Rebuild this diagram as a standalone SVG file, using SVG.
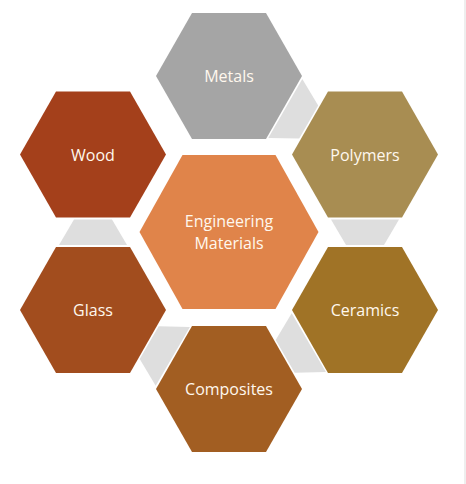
<svg xmlns="http://www.w3.org/2000/svg" width="466" height="484" viewBox="0 0 466 484">
  <style>
    .lbl { font-family: "Open Sans", "Noto Sans", "Liberation Sans", sans-serif; font-size: 16px; fill: #FFF8EE; text-anchor: middle; }
    .conn { fill: #DEDEDE; stroke: none; }
  </style>
  <rect x="0" y="0" width="466" height="484" fill="#FFFFFF"/>
  <rect x="464" y="0" width="2" height="484" fill="#EEEEEE"/>

  <g id="connectors">
    <polygon class="conn" points="268.3,137.9 302.3,79.1 318.2,105.5 299.2,138.5"/>
    <polygon class="conn" points="331,219.5 399,219.5 384,245 346,245"/>
    <polygon class="conn" points="291.7,313.3 325.9,372 294.7,372.8 275.7,339.9"/>
    <polygon class="conn" points="189.9,327 155.7,385.8 139.7,359.1 158.7,326.2"/>
    <polygon class="conn" points="59,245 127,245 112,219.5 74,219.5"/>
  </g>

  <g id="center">
    <polygon points="139.5,232 182.5,155 275.5,155 318.5,232 275.5,309 182.5,309" fill="#E0844A"/>
    <text class="lbl" x="229" y="227">Engineering</text>
    <text class="lbl" x="229" y="249">Materials</text>
  </g>

  <g id="metals">
    <polygon points="156,76 192,13 266,13 302,76 266,139 192,139" fill="#A5A5A5"/>
    <text class="lbl" x="229" y="81.5">Metals</text>
  </g>

  <g id="polymers">
    <polygon points="292,154.5 328,91.5 402,91.5 438,154.5 402,217.5 328,217.5" fill="#A88D52"/>
    <text class="lbl" x="365" y="160.5">Polymers</text>
  </g>

  <g id="ceramics">
    <polygon points="292,310 328,247 402,247 438,310 402,373 328,373" fill="#A07326"/>
    <text class="lbl" x="365" y="316">Ceramics</text>
  </g>

  <g id="composites">
    <polygon points="156,389 192,326 266,326 302,389 266,452 192,452" fill="#A25E22"/>
    <text class="lbl" x="229" y="395">Composites</text>
  </g>

  <g id="glass">
    <polygon points="20,310 56,247 130,247 166,310 130,373 56,373" fill="#A24D1E"/>
    <text class="lbl" x="93" y="316">Glass</text>
  </g>

  <g id="wood">
    <polygon points="20,154.5 56,91.5 130,91.5 166,154.5 130,217.5 56,217.5" fill="#A4401B"/>
    <text class="lbl" x="93" y="160.5">Wood</text>
  </g>
</svg>
